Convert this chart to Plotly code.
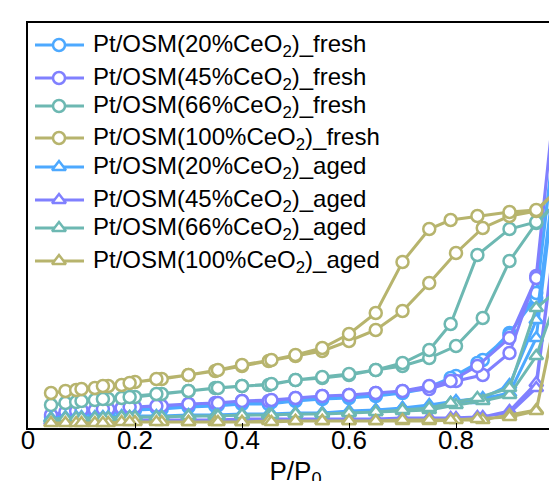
import plotly.graph_objects as go

# relative pressure points (adsorption up, then desorption back down)
p_ads = [0.043, 0.07, 0.09, 0.125, 0.15, 0.175, 0.2, 0.25, 0.3, 0.35, 0.4, 0.45,
         0.5, 0.55, 0.6, 0.65, 0.7, 0.75, 0.8, 0.85, 0.9, 0.95, 0.995]
p_des = [0.95, 0.9, 0.84, 0.79, 0.75, 0.7, 0.65, 0.6, 0.55, 0.5, 0.455, 0.4,
         0.355, 0.3, 0.24, 0.19, 0.14, 0.1]

# quantity adsorbed (arb. units)
ads_20_fresh = [11, 13, 14, 15, 16, 17, 18, 19, 21, 22, 24, 24, 27, 29, 30, 32, 35, 40, 52, 68, 95, 130, 336]
des_20_fresh = [135, 93, 65, 50, 41, 36, 33, 31, 30, 28, 26, 25, 23, 22, 20, 19, 17, 16]
ads_45_fresh = [13, 16, 17, 18, 19, 20, 21, 22, 24, 25, 27, 27, 30, 32, 33, 35, 37, 39, 47, 53, 75, 152, 382]
des_45_fresh = [150, 90, 62, 47, 42, 37, 35, 33, 32, 30, 28, 27, 25, 24, 22, 21, 19, 18]
ads_66_fresh = [23, 25, 26, 28, 29, 30, 31, 34, 37, 40, 42, 43, 48, 50, 53, 58, 62, 70, 82, 110, 167, 205, 228]
des_66_fresh = [206, 199, 173, 104, 78, 65, 58, 54, 51, 48, 44, 42, 40, 37, 34, 31, 29, 27]
ads_100_fresh = [35, 37, 38, 40, 42, 43, 46, 49, 53, 57, 62, 67, 72, 77, 87, 98, 117, 145, 175, 200, 212, 217, 241]
des_100_fresh = [218, 216, 212, 208, 199, 166, 115, 94, 80, 73, 68, 63, 58, 53, 49, 45, 42, 39]

ads_20_aged = [10, 11, 11, 11, 11, 12, 12, 12, 13, 13, 14, 14, 15, 15, 17, 18, 20, 23, 27, 30, 43, 108, 295]
des_20_aged = [90, 35, 28, 25, 22, 20, 18, 16, 15, 14, 14, 13, 13, 12, 12, 11, 11, 11]
ads_45_aged = [7, 7, 7, 7, 8, 8, 8, 8, 8, 8, 9, 9, 9, 9, 9, 9, 10, 10, 10, 11, 17, 45, 232]
des_45_aged = [40, 15, 11, 10, 10, 9, 9, 9, 9, 9, 8, 8, 8, 8, 8, 7, 7, 7]
ads_66_aged = [9, 10, 10, 10, 10, 11, 11, 11, 12, 12, 13, 13, 14, 14, 15, 16, 17, 18, 23, 27, 33, 72, 140]
des_66_aged = [120, 40, 30, 25, 20, 18, 16, 15, 14, 14, 13, 13, 12, 12, 11, 11, 10, 10]
ads_100_aged = [5, 5, 5, 5, 5, 6, 6, 6, 6, 6, 6, 7, 7, 7, 7, 7, 7, 7, 8, 8, 13, 18, 133]
des_100_aged = [17, 11, 9, 8, 8, 8, 7, 7, 7, 7, 6, 6, 6, 6, 6, 6, 5, 5]

colors = {'20': '#4DA9FF', '45': '#8080FF', '66': '#6DB8B2', '100': '#B7B46D'}

series = [
    ('20', 'fresh', ads_20_fresh, des_20_fresh),
    ('45', 'fresh', ads_45_fresh, des_45_fresh),
    ('66', 'fresh', ads_66_fresh, des_66_fresh),
    ('100', 'fresh', ads_100_fresh, des_100_fresh),
    ('20', 'aged', ads_20_aged, des_20_aged),
    ('45', 'aged', ads_45_aged, des_45_aged),
    ('66', 'aged', ads_66_aged, des_66_aged),
    ('100', 'aged', ads_100_aged, des_100_aged),
]

# legend rows, pixels down from the top of the frame
legend_rows = [22, 55, 83, 115, 144, 177, 205, 238]

FONT = 'Liberation Sans, Arial, sans-serif'

fig = go.Figure()

for pct, state, ads, des in series:
    c = colors[pct]
    sym = 'circle' if state == 'fresh' else 'triangle-up'
    fig.add_trace(go.Scatter(
        x=p_ads + p_des,
        y=ads + des,
        mode='lines+markers',
        name='Pt/OSM(%s%%CeO<sub>2</sub>)_%s' % (pct, state),
        line=dict(color=c, width=3),
        marker=dict(symbol=sym, size=12, color='white', line=dict(color=c, width=2.5)),
        showlegend=False,
    ))

# hand-made legend on a pixel overlay axis (x: px from left of frame, y: px from top)
for (pct, state, ads, des), row in zip(series, legend_rows):
    c = colors[pct]
    sym = 'circle' if state == 'fresh' else 'triangle-up'
    fig.add_trace(go.Scatter(
        x=[7, 31, 56], y=[row, row, row],
        xaxis='x2', yaxis='y2',
        mode='lines+markers',
        line=dict(color=c, width=3),
        marker=dict(symbol=sym, size=12, color='white', line=dict(color=c, width=2.5),
                    opacity=[0, 1, 0]),
        showlegend=False, hoverinfo='skip',
    ))
    fig.add_annotation(
        x=63, y=row, xref='x2', yref='y2',
        text='Pt/OSM(%s%%CeO<sub>2</sub>)_%s' % (pct, state),
        showarrow=False, xanchor='left', yanchor='middle',
        font=dict(family=FONT, size=24, color='black'),
    )

fig.update_layout(
    xaxis=dict(
        range=[0, 1], dtick=0.2,
        showline=True, linecolor='black', linewidth=1.5, mirror=True,
        ticks='inside', ticklen=5, tickcolor='black',
        showgrid=False, zeroline=False, automargin=False,
        ticklabeloverflow='allow', ticklabelstandoff=-12,
        tickfont=dict(family=FONT, size=26, color='black'),
        title=dict(text='P/P<sub>0</sub>', standoff=14,
                   font=dict(family=FONT, size=26, color='black')),
    ),
    yaxis=dict(
        range=[0, 405],
        showline=True, linecolor='black', linewidth=1.5, mirror=True,
        showticklabels=False, ticks='', showgrid=False, zeroline=False,
        automargin=False,
    ),
    xaxis2=dict(range=[0, 535], overlaying='x', visible=False, fixedrange=True),
    yaxis2=dict(range=[405, 0], overlaying='y', visible=False, fixedrange=True),
    width=557, height=481,
    margin=dict(l=20, r=2, t=15, b=61),
    plot_bgcolor='white', paper_bgcolor='white',
    showlegend=False,
)

fig.write_html("out.html")
